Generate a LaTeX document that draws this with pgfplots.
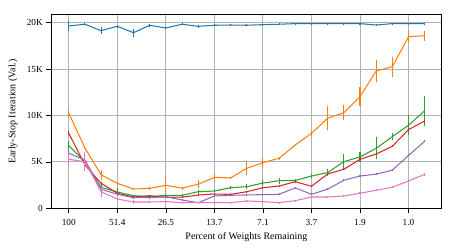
\documentclass[border=0pt]{standalone}
\usepackage{pgfplots}
\usepackage{pgfplotstable}
\pgfplotsset{compat=1.18}
\usepackage{fontspec}
\setmainfont{Liberation Serif}
\definecolor{tabblue}{HTML}{1F77B4}
\definecolor{taborange}{HTML}{FF7F0E}
\definecolor{tabgreen}{HTML}{2CA02C}
\definecolor{tabred}{HTML}{D62728}
\definecolor{tabpurple}{HTML}{9467BD}
\definecolor{tabpink}{HTML}{E377C2}

\pgfplotstableread{
x y e
0 19650 540
1 19830 100
2 19140 380
3 19610 150
4 18920 430
5 19720 150
6 19430 150
7 19830 100
8 19610 150
9 19720 100
10 19750 100
11 19720 120
12 19790 100
13 19830 100
14 19900 60
15 19900 60
16 19900 60
17 19900 60
18 19900 60
19 19750 100
20 19900 60
21 19900 60
22 19900 60
}\blue
\pgfplotstableread{
x y e
0 10240 400
1 6500 100
2 3600 540
3 2690 150
4 2080 100
5 2150 150
6 2480 780
7 2170 150
8 2590 450
9 3340 450
10 3270 150
11 4310 750
12 4920 600
13 5390 150
14 6820 150
15 8080 300
16 9700 1300
17 10300 800
18 12030 1000
19 14800 1170
20 15260 1080
21 18490 600
22 18600 520
}\orange
\pgfplotstableread{
x y e
0 6750 450
1 5020 150
2 2260 350
3 1760 400
4 1360 100
5 1250 100
6 1400 100
7 1400 100
8 1790 200
9 1860 100
10 2220 150
11 2330 300
12 2720 350
13 2970 300
14 3000 150
15 3480 200
16 3840 360
17 5020 800
18 5540 540
19 6460 1170
20 7720 360
21 8950 1100
22 10520 1600
}\green
\pgfplotstableread{
x y e
0 8080 200
1 4670 150
2 2690 100
3 1620 100
4 1220 100
5 1360 100
6 1185 100
7 1200 100
8 1430 100
9 1540 100
10 1500 100
11 1790 100
12 2220 100
13 2400 100
14 2870 100
15 2370 100
16 3700 100
17 4200 100
18 5280 100
19 5850 100
20 6680 100
21 8480 100
22 9400 100
}\red
\pgfplotstableread{
x y e
0 5930 300
1 5200 500
2 2050 200
3 1510 100
4 1140 100
5 1140 100
6 1250 100
7 900 100
8 600 100
9 1330 100
10 1400 100
11 1440 100
12 1470 100
13 1510 100
14 2200 100
15 1510 100
16 2060 100
17 3020 100
18 3480 100
19 3680 100
20 4110 100
21 5700 100
22 7220 100
}\purple
\pgfplotstableread{
x y e
0 5280 720
1 5020 1000
2 1790 540
3 1000 150
4 680 200
5 680 100
6 720 100
7 600 100
8 610 100
9 610 100
10 610 100
11 790 100
12 720 100
13 610 100
14 820 100
15 1220 150
16 1220 150
17 1330 100
18 1620 100
19 1950 100
20 2260 100
21 2950 150
22 3660 150
}\pink

\begin{document}
\begin{tikzpicture}
\begin{axis}[
  name=ax,
  scale only axis,
  width=390.7bp, height=193.6bp,
  xmin=-1.1, xmax=23.05,
  ymin=0, ymax=20860,
  xtick={0,3,6,9,12,15,18,21},
  xticklabels={100,51.4,26.5,13.7,7.1,3.7,1.9,1.0},
  ytick={0,5000,10000,15000,20000},
  yticklabels={0,5K,10K,15K,20K},
  scaled y ticks=false,
  tick align=outside,
  major tick length=4.7bp,
  tick style={black, line width=0.7pt},
  xtick pos=bottom, ytick pos=left,
  grid=major,
  major grid style={color=black!30, line width=0.9pt},
  axis line style={black, line width=1pt},
  tick label style={font=\fontsize{9.3}{11}\selectfont},
  xticklabel style={yshift=-3bp},
  label style={font=\fontsize{9.3}{11}\selectfont},
  xlabel={Percent of Weights Remaining},
  ylabel={Early-Stop Iteration (Val.)},
  every axis x label/.style={at={(axis description cs:0.5,-0.1467)}, anchor=center},
  every axis y label/.style={at={(axis description cs:-0.0973,0.5)}, anchor=center, rotate=90},
  every axis plot/.append style={line width=1.05pt, mark=none},
  error bars/error bar style={line width=1.05pt},
  error bars/error mark=none,
]
\addplot[tabblue, error bars/.cd, y dir=both, y explicit] table[x=x, y=y, y error=e] {\blue};
\addplot[taborange, error bars/.cd, y dir=both, y explicit] table[x=x, y=y, y error=e] {\orange};
\addplot[tabgreen, error bars/.cd, y dir=both, y explicit] table[x=x, y=y, y error=e] {\green};
\addplot[tabred, error bars/.cd, y dir=both, y explicit] table[x=x, y=y, y error=e] {\red};
\addplot[tabpurple, error bars/.cd, y dir=both, y explicit] table[x=x, y=y, y error=e] {\purple};
\addplot[tabpink, error bars/.cd, y dir=both, y explicit] table[x=x, y=y, y error=e] {\pink};
\end{axis}
\path (ax.south west) ++(-51bp,-43.7bp) coordinate (bl);
\path (ax.north east) ++(15.3bp,14.7bp) coordinate (tr);
\path (bl) rectangle (tr);
\end{tikzpicture}
\end{document}
